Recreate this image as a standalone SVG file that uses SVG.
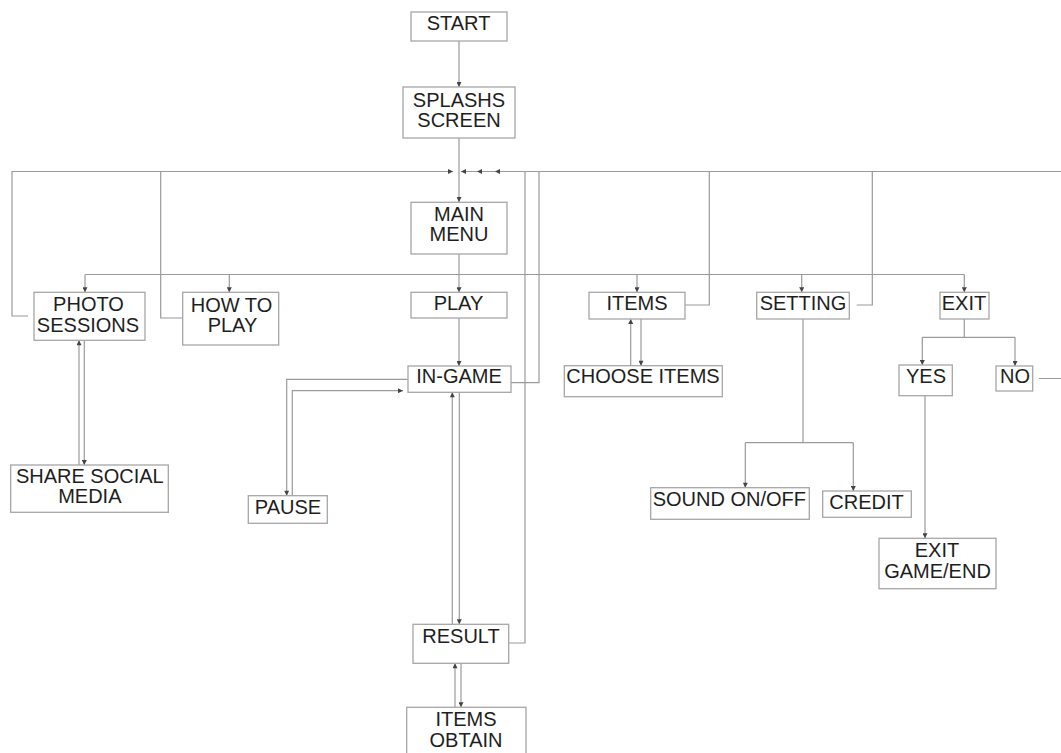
<svg xmlns="http://www.w3.org/2000/svg" width="1061" height="753" viewBox="0 0 1061 753">
<style>
.box{fill:#fff;stroke:#a6a6a6;stroke-width:1.3}
.t{font-family:"Liberation Sans",Arial,sans-serif;font-size:20px;fill:#1e1e1e;text-anchor:middle}
.c{fill:none;stroke:#9a9a9a;stroke-width:1.2}
.ar{marker-end:url(#a)}
</style>
<defs>
<marker id="a" viewBox="0 0 6 6" refX="6" refY="3" markerWidth="6" markerHeight="5" markerUnits="userSpaceOnUse" orient="auto">
<path d="M0,0 L6,3 L0,6 Z" fill="#444"/>
</marker>
</defs>
<rect width="1061" height="753" fill="#fff"/>
<g id="connectors">
<path class="c ar" d="M459,41 V87"/>
<path class="c ar" d="M459,138 V202"/>
<path class="c ar" d="M28,316 H12 V171.5 H453"/>
<path class="c" d="M182.7,318 H160.7 V171.5"/>
<path class="c ar" d="M511,382.7 H539 V171.5 H461"/>
<path class="c ar" d="M508.7,643 H525 V171.5 H477"/>
<path class="c ar" d="M685,305 H709.3 V171.5 H495"/>
<path class="c" d="M856.7,305 H872.3 V171.5"/>
<path class="c" d="M1039,378.5 H1070 V171.5 H700"/>
<path class="c ar" d="M459,254 V292.3"/>
<path class="c" d="M85,274.5 H964.3"/>
<path class="c ar" d="M85,274.5 V292.3"/>
<path class="c ar" d="M229.3,274.5 V292.3"/>
<path class="c ar" d="M637,274.5 V292.3"/>
<path class="c ar" d="M801.7,274.5 V292.3"/>
<path class="c ar" d="M964.3,274.5 V292.3"/>
<path class="c ar" d="M459,318 V366"/>
<path class="c ar" d="M407.7,379.3 H286.7 V495.7"/>
<path class="c ar" d="M292.3,495.7 V390.7 H403"/>
<path class="c ar" d="M459.3,392.3 V624.3"/>
<path class="c ar" d="M452.3,624.3 V392.3"/>
<path class="c ar" d="M461,663.3 V707.3"/>
<path class="c ar" d="M455,707.3 V663.3"/>
<path class="c ar" d="M84.3,340.3 V465"/>
<path class="c ar" d="M79,465 V340.3"/>
<path class="c ar" d="M641,319 V365.7"/>
<path class="c ar" d="M630.7,365.7 V319"/>
<path class="c" d="M803,319 V442.7 M745.3,442.7 H853.3"/>
<path class="c ar" d="M745.3,442.7 V487.7"/>
<path class="c ar" d="M853.3,442.7 V491"/>
<path class="c" d="M964.3,319 V337.3 M922.3,337.3 H1015"/>
<path class="c ar" d="M922.3,337.3 V365"/>
<path class="c ar" d="M1015,337.3 V366"/>
<path class="c ar" d="M925,395.7 V538.3"/>
</g>
<g id="start"><rect class="box" x="411" y="12" width="96" height="29"/><text class="t" x="458.5" y="29.5">START</text></g>
<g id="splash"><rect class="box" x="403" y="87" width="112" height="51"/><text class="t" x="459" y="107">SPLASHS</text><text class="t" x="459" y="127">SCREEN</text></g>
<g id="mainmenu"><rect class="box" x="411" y="202.3" width="96" height="51.7"/><text class="t" x="459" y="220.7">MAIN</text><text class="t" x="459" y="241">MENU</text></g>
<g id="photo"><rect class="box" x="34" y="292.3" width="111" height="48"/><text class="t" x="88.5" y="310.7">PHOTO</text><text class="t" x="88" y="331.7">SESSIONS</text></g>
<g id="howto"><rect class="box" x="182.7" y="292.3" width="96" height="52.7"/><text class="t" x="231.5" y="311.7">HOW TO</text><text class="t" x="232.5" y="331.7">PLAY</text></g>
<g id="play"><rect class="box" x="411" y="292.3" width="96" height="25.7"/><text class="t" x="458.5" y="310">PLAY</text></g>
<g id="items"><rect class="box" x="589" y="292.3" width="96" height="26.7"/><text class="t" x="637" y="310">ITEMS</text></g>
<g id="setting"><rect class="box" x="756.7" y="292.3" width="92.6" height="26.7"/><text class="t" x="803" y="310">SETTING</text></g>
<g id="exit"><rect class="box" x="940" y="292.3" width="49" height="26.7"/><text class="t" x="964" y="310">EXIT</text></g>
<g id="ingame"><rect class="box" x="408" y="366" width="103" height="26.3"/><text class="t" x="459" y="383.3">IN-GAME</text></g>
<g id="chooseitems"><rect class="box" x="564.3" y="365.7" width="158" height="31"/><text class="t" x="643" y="383.3">CHOOSE ITEMS</text></g>
<g id="yes"><rect class="box" x="899" y="365" width="53.3" height="30.7"/><text class="t" x="926" y="383.3">YES</text></g>
<g id="no"><rect class="box" x="996" y="366" width="36.7" height="25"/><text class="t" x="1015" y="383.3">NO</text></g>
<g id="share"><rect class="box" x="10.7" y="465" width="157.6" height="47.3"/><text class="t" x="89.8" y="483.3">SHARE SOCIAL</text><text class="t" x="89.8" y="503.3">MEDIA</text></g>
<g id="pause"><rect class="box" x="248.3" y="495.7" width="79" height="27.6"/><text class="t" x="288" y="514.3">PAUSE</text></g>
<g id="sound"><rect class="box" x="650.7" y="487.7" width="158.6" height="31.6"/><text class="t" x="729.3" y="505.7">SOUND ON/OFF</text></g>
<g id="credit"><rect class="box" x="822.7" y="491" width="88.6" height="26.3"/><text class="t" x="866.5" y="509">CREDIT</text></g>
<g id="exitgame"><rect class="box" x="879" y="538.3" width="117" height="50.4"/><text class="t" x="937" y="557.3">EXIT</text><text class="t" x="937.5" y="577.7">GAME/END</text></g>
<g id="result"><rect class="box" x="413" y="624.3" width="95.7" height="39"/><text class="t" x="461" y="642.7">RESULT</text></g>
<g id="itemsobtain"><rect class="box" x="406.7" y="707.3" width="119.3" height="60"/><text class="t" x="466" y="726">ITEMS</text><text class="t" x="466" y="747.3">OBTAIN</text></g>
</svg>
